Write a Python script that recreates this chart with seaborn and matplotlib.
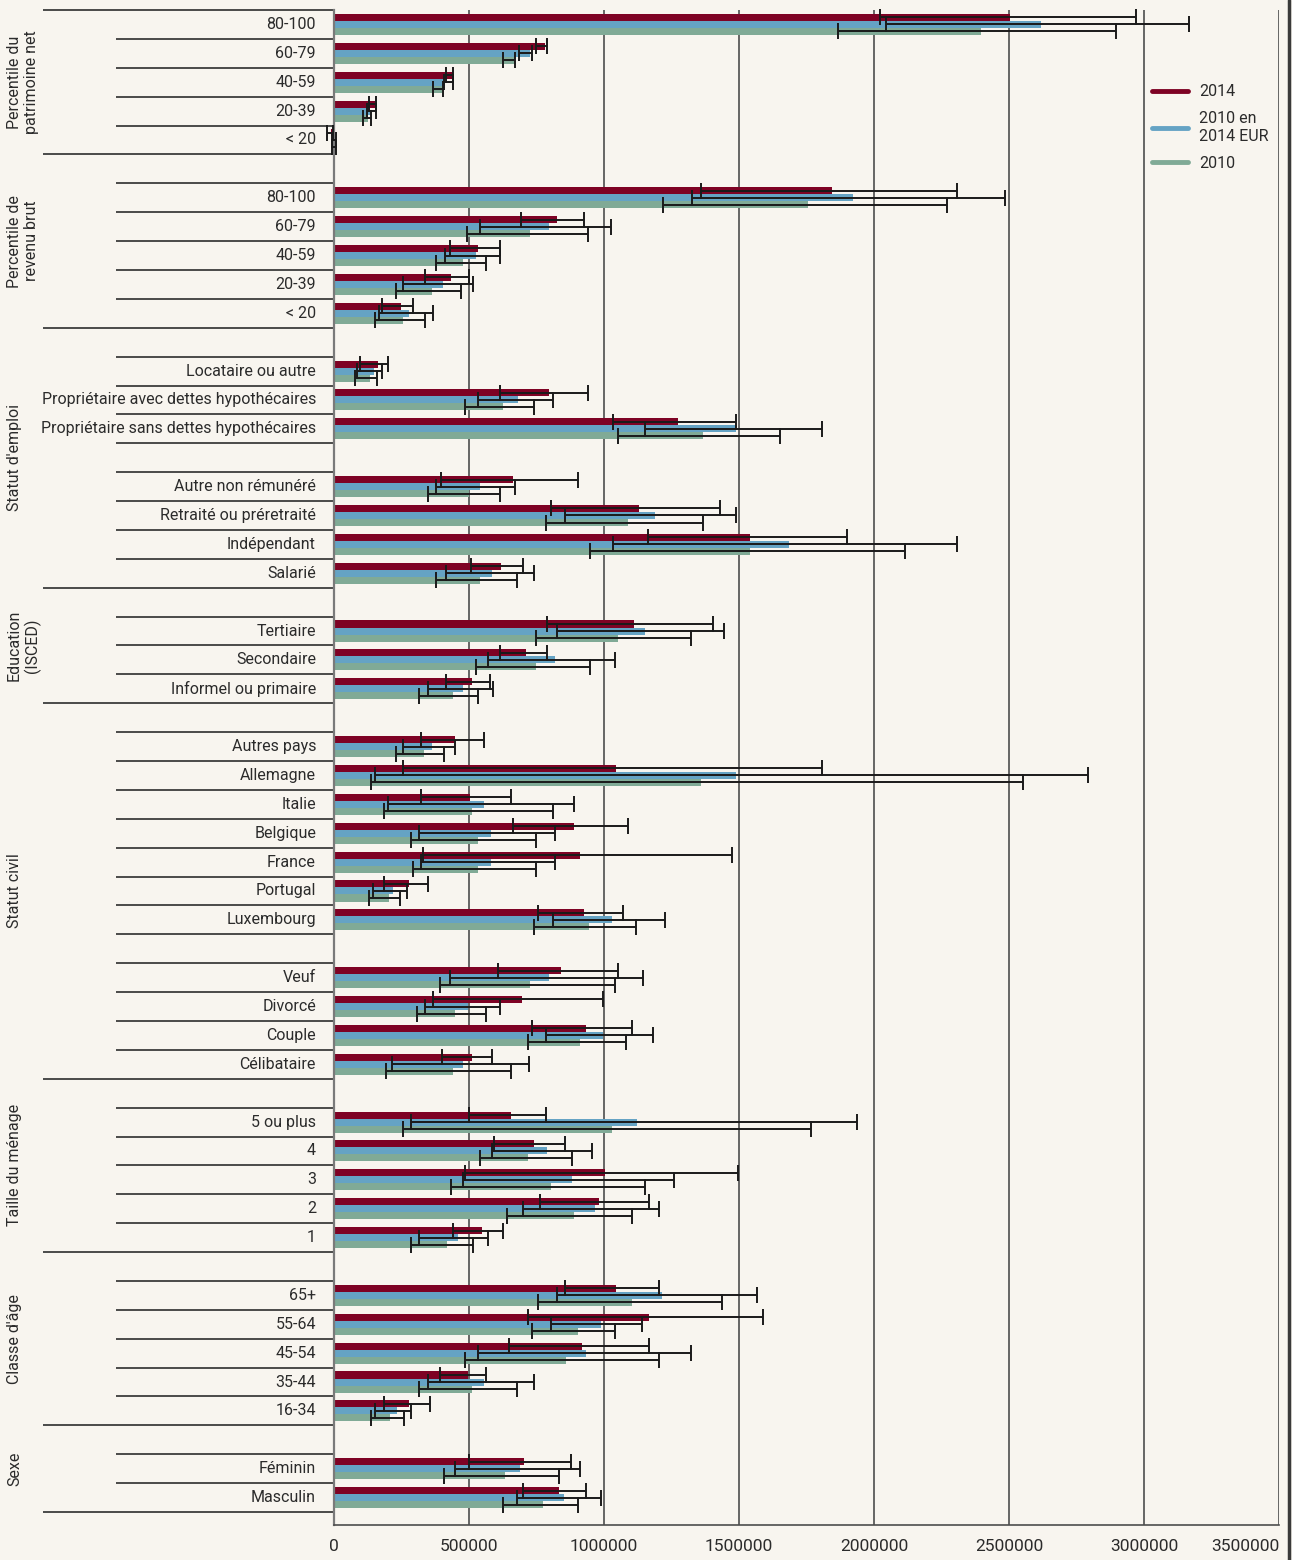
import numpy as np
import pandas as pd
import matplotlib
matplotlib.use("Agg")
import matplotlib.pyplot as plt
import matplotlib.transforms as mtransforms
from matplotlib.lines import Line2D
from matplotlib.container import BarContainer
import seaborn as sns

# Row labels from top to bottom; "" marks an empty spacer row
rows = [
    "80-100", "60-79", "40-59", "20-39", "< 20",
    "", "80-100", "60-79", "40-59", "20-39", "< 20",
    "", "Locataire ou autre", "Propriétaire avec dettes hypothécaires",
    "Propriétaire sans dettes hypothécaires",
    "", "Autre non rémunéré", "Retraité ou préretraité", "Indépendant", "Salarié",
    "", "Tertiaire", "Secondaire", "Informel ou primaire",
    "", "Autres pays", "Allemagne", "Italie", "Belgique", "France", "Portugal", "Luxembourg",
    "", "Veuf", "Divorcé", "Couple", "Célibataire",
    "", "5 ou plus", "4", "3", "2", "1",
    "", "65+", "55-64", "45-54", "35-44", "16-34",
    "", "Féminin", "Masculin",
]
groups = ["Percentile du\npatrimoine net", "Percentile de\nrevenu brut", "Statut d'emploi",
          "Education\n(ISCED)", "Statut civil", "Taille du ménage", "Classe d'âge", "Sexe"]
group_rows = [5, 6, 9, 4, 13, 6, 6, 3]

series = ["2014", "2010 en\n2014 EUR", "2010"]
colors = ["#7e0224", "#65a3c4", "#80aa96"]

# Patrimoine net moyen (EUR) with confidence bounds, one value per labelled row
v2014 = [2503000, 781000, 440000, 150000, -12000,
         1844000, 826000, 533000, 433000, 248000,
         163000, 797000, 1274000,
         662000, 1130000, 1542000, 617000,
         1111000, 711000, 511000,
         448000, 1044000, 504000, 889000, 911000, 278000, 926000,
         841000, 697000, 933000, 511000,
         656000, 741000, 1002000, 981000, 548000,
         1044000, 1167000, 919000, 496000, 278000,
         704000, 833000]
lo2014 = [2022000, 748000, 415000, 130000, -25000,
          1359000, 693000, 430000, 337000, 178000,
          98000, 616000, 1032000,
          397000, 803000, 1164000, 508000,
          788000, 616000, 416000,
          322000, 254000, 322000, 663000, 331000, 184000, 755000,
          607000, 367000, 733000, 399000,
          500000, 592000, 485000, 764000, 440000,
          857000, 717000, 648000, 393000, 184000,
          501000, 701000]
hi2014 = [2970000, 789000, 442000, 154000, -3000,
          2307000, 926000, 615000, 500000, 293000,
          201000, 942000, 1490000,
          903000, 1429000, 1899000, 700000,
          1404000, 788000, 578000,
          556000, 1807000, 656000, 1088000, 1475000, 347000, 1072000,
          1050000, 996000, 1104000, 587000,
          787000, 855000, 1497000, 1165000, 625000,
          1204000, 1590000, 1166000, 563000, 354000,
          879000, 933000]

v2010eur = [2618000, 726000, 412000, 133000, 6000,
            1922000, 796000, 526000, 404000, 278000,
            147000, 683000, 1490000,
            540000, 1189000, 1686000, 587000,
            1151000, 819000, 477000,
            363000, 1489000, 556000, 581000, 581000, 217000, 1030000,
            796000, 498000, 997000, 477000,
            1122000, 788000, 882000, 967000, 459000,
            1215000, 989000, 933000, 556000, 233000,
            689000, 852000]
lo2010eur = [2044000, 685000, 408000, 122000, -8000,
             1326000, 541000, 411000, 255000, 167000,
             85000, 532000, 1150000,
             377000, 856000, 1032000, 416000,
             826000, 570000, 347000,
             254000, 153000, 200000, 316000, 322000, 146000, 811000,
             431000, 338000, 785000, 215000,
             287000, 586000, 477000, 701000, 316000,
             826000, 803000, 532000, 347000, 153000,
             447000, 679000]
hi2010eur = [3166000, 733000, 440000, 154000, 8000,
             2485000, 1026000, 615000, 515000, 367000,
             176000, 810000, 1806000,
             672000, 1490000, 2309000, 740000,
             1444000, 1042000, 588000,
             448000, 2793000, 889000, 819000, 819000, 269000, 1226000,
             1143000, 616000, 1181000, 723000,
             1936000, 956000, 1259000, 1204000, 571000,
             1567000, 1142000, 1321000, 741000, 285000,
             910000, 989000]

v2010 = [2396000, 670000, 400000, 126000, 6000,
         1755000, 726000, 478000, 363000, 256000,
         132000, 625000, 1365000,
         500000, 1089000, 1542000, 539000,
         1052000, 748000, 441000,
         333000, 1358000, 511000, 532000, 532000, 203000, 944000,
         726000, 447000, 911000, 440000,
         1030000, 717000, 803000, 889000, 418000,
         1104000, 904000, 859000, 511000, 207000,
         633000, 774000]
lo2010 = [1867000, 626000, 367000, 107000, -6000,
          1219000, 493000, 378000, 230000, 152000,
          77000, 484000, 1050000,
          348000, 786000, 948000, 377000,
          748000, 525000, 316000,
          231000, 138000, 184000, 285000, 293000, 130000, 741000,
          393000, 307000, 717000, 193000,
          255000, 539000, 432000, 640000, 285000,
          756000, 733000, 485000, 316000, 138000,
          409000, 625000]
hi2010 = [2896000, 672000, 402000, 137000, 8000,
          2270000, 941000, 563000, 470000, 337000,
          160000, 740000, 1652000,
          616000, 1367000, 2115000, 679000,
          1321000, 949000, 532000,
          409000, 2552000, 810000, 748000, 748000, 246000, 1119000,
          1042000, 563000, 1082000, 656000,
          1768000, 881000, 1150000, 1104000, 516000,
          1436000, 1042000, 1204000, 679000, 260000,
          833000, 903000]

xticks = [0, 500000, 1000000, 1500000, 2000000, 2500000, 3000000, 3500000]

bg = "#f8f5ef"
ink = "#2b2b2b"
label_size = 11.5

# ---- long-form table --------------------------------------------------------
positions = [i for i, lab in enumerate(rows) if lab]
records = []
bounds = {}
for s, vals, lo, hi in zip(series, [v2014, v2010eur, v2010],
                           [lo2014, lo2010eur, lo2010], [hi2014, hi2010eur, hi2010]):
    for p, v, l, h in zip(positions, vals, lo, hi):
        records.append({"pos": p, "valeur": v, "serie": s})
        bounds[(s, p)] = (v, l, h)
df = pd.DataFrame(records)

sns.set_theme(style="white")
plt.rcParams["font.family"] = ["Roboto", "DejaVu Sans"]
plt.rcParams["text.color"] = ink

W, H = 1292, 1560
fig = plt.figure(figsize=(W / 100, H / 100), dpi=100, facecolor=bg)
ax_left, ax_right, ax_top, ax_bottom = 334, 1279, 10, 1525
ax = fig.add_axes([ax_left / W, 1 - ax_bottom / H, (ax_right - ax_left) / W,
                   (ax_bottom - ax_top) / H])
ax.set_facecolor(bg)

sns.barplot(data=df, x="valeur", y="pos", hue="serie", hue_order=series,
            palette=colors, orient="h", native_scale=True, width=0.73,
            errorbar=None, saturation=1, legend=False, linewidth=0, ax=ax)

n_rows = len(rows)
ax.set_ylim(n_rows - 0.05, -0.5)
ax.set_xlim(0, 3500000)

# error bars on each bar
bar_containers = [c for c in ax.containers if isinstance(c, BarContainer)]
for s, cont in zip(series, bar_containers):
    for bar in cont:
        bar.set_clip_on(False)
        yc = bar.get_y() + bar.get_height() / 2
        p = int(round(yc))
        if (s, p) not in bounds:
            continue
        v, l, h = bounds[(s, p)]
        eb = ax.errorbar([v], [yc], xerr=[[v - l], [h - v]], fmt="none",
                         ecolor="#1a1a1a", elinewidth=1.4, capsize=5.5,
                         capthick=1.4, zorder=4)
        for art in list(eb.lines[1]) + list(eb.lines[2]):
            art.set_clip_on(False)

# axes styling
ax.set_xticks(xticks)
ax.set_xticklabels([str(t) for t in xticks])
ax.get_xticklabels()[-1].set_horizontalalignment("right")
ax.set_yticks([])
ax.set_xlabel("")
ax.set_ylabel("")
ax.xaxis.grid(True, color="#4d4d4d", linewidth=1.2)
ax.set_axisbelow(True)
ax.tick_params(axis="x", length=5, width=1.1, color="#4d4d4d",
               labelsize=12.5, labelcolor=ink, pad=5)
for side in ("top", "right"):
    ax.spines[side].set_visible(False)
ax.spines["left"].set_color("#7a7a7a")
ax.spines["left"].set_linewidth(1.6)
ax.spines["bottom"].set_color("#4d4d4d")
ax.spines["bottom"].set_linewidth(1.2)

# row separators and labels
axw = ax_right - ax_left
trans_row = mtransforms.blended_transform_factory(ax.transAxes, ax.transData)
group_edges = set(np.cumsum([0] + group_rows))
for b in range(n_rows + 1):
    y = b - 0.5
    x0 = (43 - ax_left) / axw if b in group_edges else (116 - ax_left) / axw
    ax.plot([x0, 0], [y, y], transform=trans_row, color="#3c3c3c",
            linewidth=1.3, clip_on=False, solid_capstyle="butt")
for i, lab in enumerate(rows):
    if lab:
        ax.text((316 - ax_left) / axw, i, lab, transform=trans_row, ha="right",
                va="center", fontsize=label_size, color=ink)

# group titles
trans_grp = mtransforms.blended_transform_factory(fig.transFigure, ax.transData)
start = 0
for g, n in zip(groups, group_rows):
    centre = start - 0.5 + n / 2
    ax.text(7 / W, centre, g, transform=trans_grp, rotation=90, ha="left",
            va="center", multialignment="center", fontsize=label_size,
            color=ink, clip_on=False, linespacing=1.15)
    start += n

# legend
handles = [Line2D([0], [0], color=c, linewidth=3.5, solid_capstyle="round")
           for c in colors]
fig.legend(handles, series, loc="upper left",
           bbox_to_anchor=(1138 / W, 1 - 70 / H), frameon=False,
           fontsize=label_size, handlelength=2.2, handletextpad=0.75,
           labelspacing=0.75)

# frame line on the right edge
fig.add_artist(Line2D([1288.5 / W] * 2, [0, 1], transform=fig.transFigure,
                      color="#3a3a3a", linewidth=2.5))

fig.savefig("out.png", dpi=100, facecolor=bg)
